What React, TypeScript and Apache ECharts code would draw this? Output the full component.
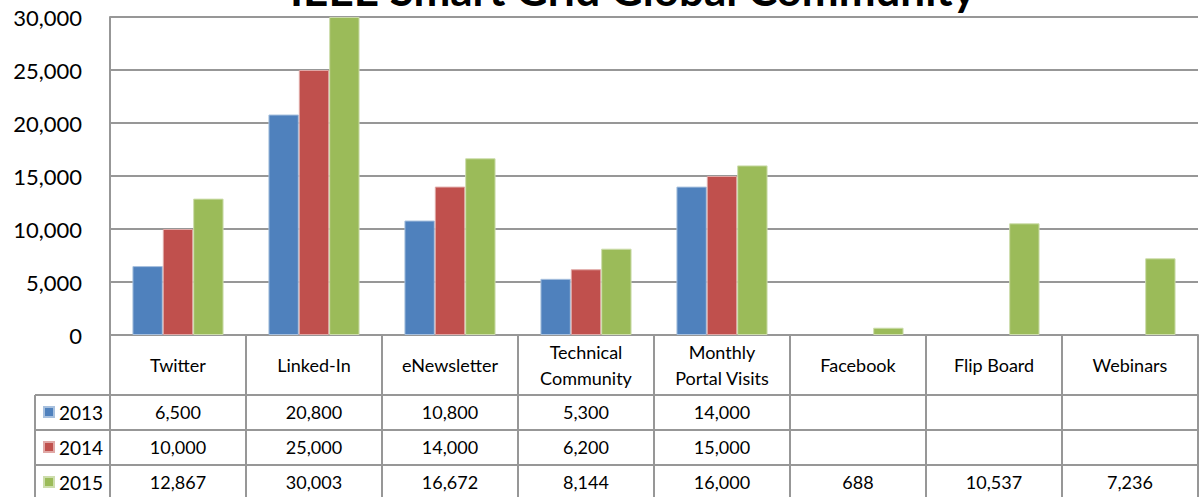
import React, { useEffect, useRef } from "react";
import * as echarts from "echarts";

const categories = [
  "Twitter",
  "Linked-In",
  "eNewsletter",
  "Technical\nCommunity",
  "Monthly\nPortal Visits",
  "Facebook",
  "Flip Board",
  "Webinars",
];
const years = ["2013", "2014", "2015"];
const values2013 = [6500, 20800, 10800, 5300, 14000, null, null, null];
const values2014 = [10000, 25000, 14000, 6200, 15000, null, null, null];
const values2015 = [12867, 30003, 16672, 8144, 16000, 688, 10537, 7236];
const yTicks = { min: 0, max: 30000, interval: 5000 };
const titleText = "IEEE Smart Grid Global Community";

const colors = ["#4F81BD", "#C0504D", "#9BBB59"];
const borders = ["#A7C0DE", "#E0A8A6", "#CDDDAC"];
const lineColor = "#979797";
const font = "Lato, 'Open Sans', sans-serif";

const fmt = (v: number | null) =>
  v === null || v === undefined ? "" : v.toLocaleString("en-US");

export default function App() {
  const ref = useRef<HTMLDivElement>(null);
  useEffect(() => {
    document.body.style.margin = "0";
    const chart = echarts.init(ref.current!, null, { renderer: "svg" });
    const gridLeft = 110;
    const gridTop = 17;
    const gridBottom = 162;
    const zeroY = 335;
    const rowOffsets = [60, 95, 130];
    const allSeries = [values2013, values2014, values2015];

    const dataAxes = allSeries.map((vals, i) => ({
      type: "category",
      gridIndex: 0,
      position: "bottom",
      offset: rowOffsets[i],
      data: vals.map(fmt),
      axisLine: { show: true, lineStyle: { color: lineColor, width: 2 } },
      axisTick: { show: false },
      splitLine: { show: false },
      axisLabel: {
        interval: 0,
        margin: 17,
        verticalAlign: "middle",
        fontSize: 18,
        fontFamily: font,
        color: "#000",
      },
    }));

    chart.setOption({
      animation: false,
      backgroundColor: "#fff",
      textStyle: { fontFamily: font },
      grid: { left: gridLeft, right: 1, top: gridTop, bottom: gridBottom },
      legend: {
        orient: "vertical",
        left: 43,
        top: 402,
        padding: 0,
        height: 95,
        icon: "rect",
        itemWidth: 10,
        itemHeight: 10,
        itemGap: 15,
        data: years,
        textStyle: { fontSize: 19, lineHeight: 20, color: "#000", fontFamily: font },
      },
      xAxis: [
        {
          type: "category",
          data: categories,
          axisLine: { show: true, lineStyle: { color: lineColor, width: 2 } },
          axisTick: {
            show: true,
            interval: 0,
            length: 165,
            lineStyle: { color: lineColor, width: 2 },
          },
          axisLabel: {
            interval: 0,
            margin: 30,
            verticalAlign: "middle",
            fontSize: 18,
            lineHeight: 26,
            fontFamily: font,
            color: "#000",
          },
        },
        ...dataAxes,
      ],
      yAxis: {
        type: "value",
        min: yTicks.min,
        max: yTicks.max,
        interval: yTicks.interval,
        axisLine: { show: true, lineStyle: { color: lineColor, width: 2 } },
        axisTick: { show: false },
        splitLine: { show: true, lineStyle: { color: lineColor, width: 2 } },
        axisLabel: {
          margin: 28,
          fontSize: 22,
          fontFamily: font,
          color: "#000",
          formatter: (v: number) => v.toLocaleString("en-US"),
        },
      },
      series: allSeries.map((vals, i) => ({
        name: years[i],
        type: "bar",
        xAxisIndex: 0,
        data: vals,
        barGap: "0%",
        barCategoryGap: "33%",
        itemStyle: { color: colors[i], borderColor: borders[i], borderWidth: 1 },
      })),
      graphic: [
        {
          type: "text",
          x: 633,
          y: -11,
          style: {
            text: titleText,
            fontSize: 44,
            fontWeight: "bold",
            fontFamily: font,
            fill: "#000",
            align: "center",
            verticalAlign: "middle",
          },
        },
        ...rowOffsets.map((o) => ({
          type: "line",
          shape: { x1: 35, y1: zeroY + o, x2: gridLeft, y2: zeroY + o },
          style: { stroke: lineColor, lineWidth: 2 },
        })),
        {
          type: "line",
          shape: { x1: 35, y1: zeroY + rowOffsets[0], x2: 35, y2: 497 },
          style: { stroke: lineColor, lineWidth: 2 },
        },
      ],
    });
    return () => chart.dispose();
  }, []);
  return <div ref={ref} style={{ width: 1199, height: 497 }} />;
}
